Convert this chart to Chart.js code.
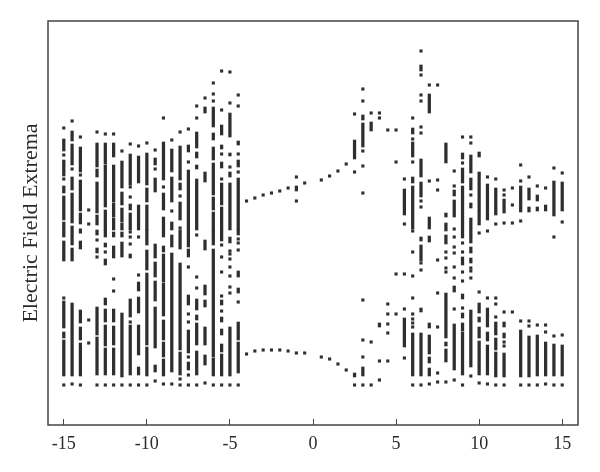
<!DOCTYPE html>
<html>
<head>
<meta charset="utf-8">
<style>body { margin: 0; background: #fff; }</style>
<script src="https://cdn.jsdelivr.net/npm/chart.js@4"></script>
</head>
<body>
<canvas id="myChart" width="600" height="472"></canvas>
<script>
// Values. y has no printed scale, so the units are arbitrary.
const xTicks = [-15, -10, -5, 0, 5, 10, 15];
const yTitle = 'Electric Field Extrema';

const columns = [
  -15, -14.5, -14, -13.5, -13, -12.5, -12, -11.5, -11, -10.5, -10, -9.5, -9, -8.5, -8, -7.5, -7, -6.5, -6, -5.5, -5, -4.5,
  -4, -3.5, -3, -2.5, -2, -1.5, -1, -0.5, 0.5, 1, 1.5, 2, 2.5, 3, 3.5, 4, 4.5, 5, 5.5, 6, 6.5, 7, 7.5,
  8, 8.5, 9, 9.5, 10, 10.5, 11, 11.5, 12, 12.5, 13, 13.5, 14, 14.5, 15
];

// dense stretches of each column, as low,high pairs
const columnRuns = [
  [274,286, 249,265, 232,239, 205,229, 188,203, 164,184, 97,124, 87,93, 49,85],
  [284,294, 260,281, 235,248, 202,232, 180,199, 164,177, 49,122],
  [253,278, 214,245, 201,212, 176,184, 102,115, 85,98, 49,82],
  [],
  [248,256, 258,282, 212,243, 200,210, 190,195, 172,177, 90,118, 50,88],
  [261,282, 218,260, 195,215, 188,195, 178,182, 160,166, 120,127, 103,116, 79,100, 50,77],
  [268,282, 223,260, 208,222, 195,207, 188,193, 167,179, 103,116, 80,99, 50,77],
  [237,264, 220,233, 203,217, 195,202, 188,193, 168,183, 48,112],
  [240,271, 215,221, 195,212, 167,171, 108,126, 50,100],
  [242,269, 195,220, 134,143, 112,128, 70,100, 50,58],
  [240,272, 223,237, 195,220, 180,195, 155,175, 80,152, 49,78],
  [260,267, 233,247, 167,181, 148,163, 124,144, 77,118, 53,60],
  [245,283, 215,232, 195,208, 188,195, 173,179, 143,171, 109,142, 85,105, 68,83, 49,66],
  [253,276, 223,248, 195,203, 178,190, 53,172],
  [245,279, 235,242, 205,223, 176,195, 75,162, 50,73],
  [273,280, 195,255, 178,195, 168,176, 120,130, 72,95, 55,63],
  [277,293, 267,273, 256,260, 195,246, 115,126, 105,110, 80,102, 50,74],
  [312,318, 243,253, 175,185, 130,140, 118,125, 80,98, 60,70],
  [298,318, 285,292, 265,278, 230,262, 215,228, 195,213, 180,195, 68,176, 49,67],
  [290,300, 276,280, 257,263, 220,242, 195,218, 184,195, 120,125, 103,108, 90,96, 73,81, 49,71],
  [288,312, 269,272, 248,253, 195,242, 182,188, 49,98],
  [280,284, 258,265, 195,247, 190,195, 148,154, 132,137, 85,103, 52,83],
  [], [], [], [], [], [],
  [234,239],
  [], [], [], [], [],
  [266,285, 48,52],
  [305,310, 278,302, 49,58],
  [294,303],
  [98,102],
  [], [],
  [210,236, 78,107],
  [291,297, 268,283, 242,248, 196,239, 49,92],
  [354,360, 248,266, 228,243, 184,188, 164,180, 113,117, 49,92],
  [312,331, 196,208, 183,189, 97,102, 71,90, 62,68, 49,57],
  [],
  [262,282, 208,212, 194,202, 181,190, 87,132, 79,83, 63,76],
  [229,235, 208,225, 133,139, 55,101],
  [266,272, 242,257, 187,239, 160,168, 126,131, 107,112, 94,102, 50,93],
  [252,270, 235,247, 217,222, 182,207, 172,178, 162,167, 58,115],
  [268,273, 200,253, 112,122, 103,108, 87,98, 50,84],
  [205,241, 98,117, 84,93, 50,80],
  [210,237, 90,103, 75,87, 48,73],
  [212,226, 98,103, 87,92, 48,72],
  [],
  [213,239, 48,95],
  [225,237, 213,218, 48,89],
  [224,230, 214,218, 49,90],
  [214,220, 49,83],
  [209,244, 49,81],
  [214,243, 49,80]
];

// isolated points of each column
const columnDots = [
  [297, 270, 246, 127, 40],
  [304, 256, 41],
  [288, 250, 195, 193, 40],
  [215, 201, 105, 82],
  [293, 185, 168, 40],
  [291, 173, 40],
  [291, 146, 134, 40],
  [274, 40],
  [281, 238, 228, 193, 188, 181, 103, 40],
  [279, 188, 150, 40],
  [282, 40],
  [275, 256, 44],
  [307, 238, 41],
  [285, 214, 41],
  [293, 229, 197, 46, 40],
  [296, 263, 158, 111, 103, 68, 50, 40],
  [319, 307, 190, 148, 137, 40],
  [327, 42],
  [342, 331, 324, 40],
  [354, 315, 271, 246, 180, 168, 153, 129, 114, 40],
  [353, 322, 258, 174, 171, 166, 158, 149, 138, 132, 40],
  [330, 319, 271, 253, 186, 182, 175, 123, 40],
  [224, 71],
  [227, 74],
  [230, 75],
  [232, 75],
  [234, 75],
  [237, 74],
  [248, 224, 72],
  [242, 72],
  [245, 68],
  [249, 66],
  [254, 61],
  [261, 55],
  [311, 253, 40],
  [336, 324, 274, 259, 232, 125, 85, 68, 40],
  [312, 83, 40],
  [312, 307, 64, 45],
  [295, 121, 111, 101, 92, 64],
  [295, 263, 151, 111],
  [246, 201, 151, 116, 67],
  [307, 286, 263, 194, 173, 149, 127, 111, 106, 102, 98, 40],
  [374, 350, 330, 324, 298, 292, 224, 218, 162, 155, 40],
  [340, 244, 41],
  [340, 245, 235, 165, 132, 98, 52, 43],
  [173, 167, 157, 153, 43],
  [254, 239, 196, 188, 178, 172, 158, 147, 116, 45],
  [288, 262, 182, 173, 153, 144, 117, 40],
  [288, 282, 230, 157, 154, 147, 49],
  [192, 133, 42],
  [248, 194, 127, 41],
  [246, 201, 127, 121, 108, 40],
  [235, 230, 202, 113, 83, 79, 40],
  [237, 220, 202, 113],
  [260, 244, 204, 104, 40],
  [248, 104, 99, 40],
  [239, 100, 40],
  [237, 100, 93, 41],
  [257, 188, 89, 40],
  [252, 203, 90, 40]
];

const runData = [];
const dotData = [];
columns.forEach((x, i) => {
  for (let j = 0; j < columnRuns[i].length; j += 2) {
    runData.push({ x: x, y: [columnRuns[i][j], columnRuns[i][j + 1]] });
  }
  columnDots[i].forEach(y => dotData.push({ x: x, y: y }));
});

const inkColor = '#2e2e2e';
const serif = '"Liberation Serif", "DejaVu Serif", serif';

// closes the box on the top and right sides
const frame = {
  id: 'frame',
  afterDatasetsDraw(chart) {
    const { ctx, chartArea: a } = chart;
    ctx.save();
    ctx.strokeStyle = '#444';
    ctx.lineWidth = 1.5;
    ctx.strokeRect(a.left, a.top, a.right - a.left, a.bottom - a.top);
    ctx.restore();
  }
};

const ctx = document.getElementById('myChart').getContext('2d');
new Chart(ctx, {
  type: 'bar',
  data: {
    datasets: [
      { type: 'bar', data: runData, backgroundColor: inkColor, barThickness: 2.6 },
      { type: 'scatter', data: dotData, backgroundColor: inkColor, borderWidth: 0, pointStyle: 'rect', pointRadius: 2.2 }
    ]
  },
  plugins: [frame],
  options: {
    responsive: false,
    animation: false,
    layout: { padding: { top: 21, right: 22, left: 18, bottom: 0 } },
    plugins: { legend: { display: false }, tooltip: { enabled: false } },
    scales: {
      x: {
        type: 'linear',
        offset: false,
        min: -15.95,
        max: 15.95,
        afterBuildTicks(axis) { axis.ticks = xTicks.map(v => ({ value: v })); },
        afterFit(axis) { axis.height = 47; },
        border: { display: false },
        grid: { drawOnChartArea: false, tickLength: -6, color: '#444', offset: false },
        ticks: { color: '#2a2a2a', font: { family: serif, size: 18 }, padding: 14, maxRotation: 0 }
      },
      y: {
        min: 0,
        max: 404,
        afterFit(axis) { axis.width = 30; },
        border: { display: false },
        grid: { display: false },
        ticks: { display: false },
        title: { display: true, text: yTitle, color: '#2a2a2a', font: { family: serif, size: 22 }, padding: { top: 0, bottom: 2 } }
      }
    }
  }
});
</script>
</body>
</html>
